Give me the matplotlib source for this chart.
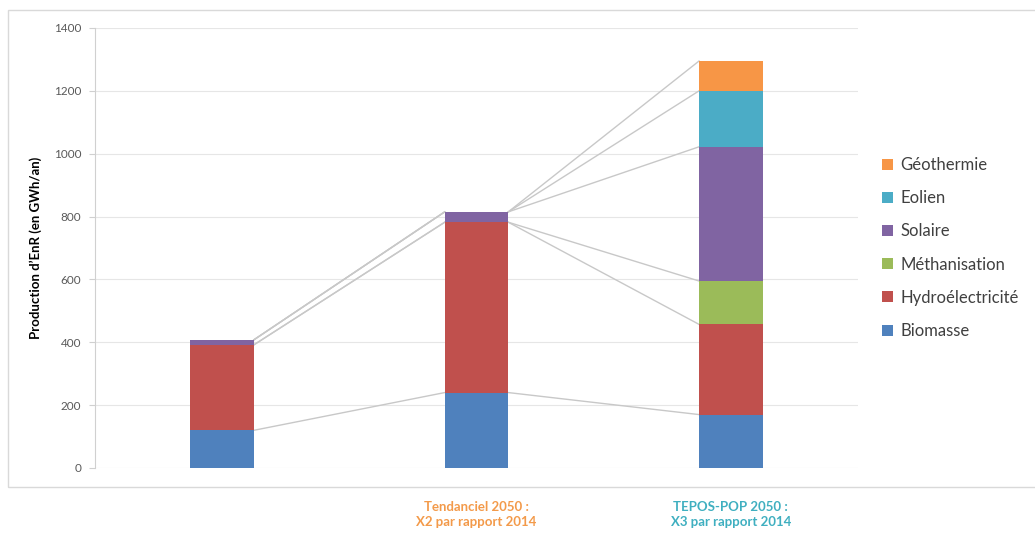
import matplotlib
matplotlib.use("Agg")
import matplotlib.pyplot as plt
import matplotlib.patches as mpatches
import numpy as np

plt.rcParams['font.family'] = ['Lato', 'DejaVu Sans']

categories = ["2014", "Tendanciel 2050", "TEPOS-POP 2050"]
cat_labels = ["", "Tendanciel 2050 :\nX2 par rapport 2014", "TEPOS-POP 2050 :\nX3 par rapport 2014"]
cat_label_colors = ["#000000", "#F39A4A", "#3FAFC0"]
series_names = ["Biomasse", "Hydroélectricité", "Méthanisation", "Solaire", "Eolien", "Géothermie"]
biomasse = [120, 240, 170]
hydro = [272, 542, 287]
methanisation = [0, 0, 138]
solaire = [16, 33, 427]
eolien = [0, 0, 178]
geothermie = [0, 0, 95]
colors = ["#4F81BD", "#C0504D", "#9BBB59", "#8064A2", "#4BACC6", "#F79646"]
yticks = [0, 200, 400, 600, 800, 1000, 1200, 1400]

series = [biomasse, hydro, methanisation, solaire, eolien, geothermie]

fig = plt.figure(figsize=(10.35, 5.36), dpi=100)
fig.patch.set_facecolor("white")

# frame of chart area
frame = mpatches.Rectangle((8/1035, (536-487)/536), (1040-8)/1035, (487-10)/536,
                           transform=fig.transFigure, fill=False, edgecolor="#D9D9D9", lw=1.0)
fig.add_artist(frame)

ax = fig.add_axes([95/1035, (536-468)/536, (858-95)/1035, (468-28)/536])
x = np.arange(len(categories))
w = 0.25
bottom = np.zeros(len(categories))
cums = []
for vals, name, c in zip(series, series_names, colors):
    vals = np.array(vals, dtype=float)
    ax.bar(x, vals, w, bottom=bottom, color=c, label=name, zorder=3)
    bottom = bottom + vals
    cums.append(bottom.copy())

# series lines
for cum in cums:
    for i in range(len(categories) - 1):
        ax.plot([x[i] + w/2, x[i+1] - w/2], [cum[i], cum[i+1]], color="#C8C8C8", lw=1.0, zorder=2)

ax.set_xlim(-0.5, len(categories) - 0.5)
ax.set_ylim(0, 1400)
ax.set_yticks(yticks)
ax.set_yticklabels([str(t) for t in yticks], color="#595959", fontsize=8.5)
ax.yaxis.grid(True, color="#E6E6E6", lw=0.8, zorder=0)
ax.set_axisbelow(True)
for s in ["top", "right", "bottom"]:
    ax.spines[s].set_visible(False)
ax.spines["left"].set_color("#D0D0D0")
ax.tick_params(axis="y", length=4, color="#D0D0D0", pad=6)
ax.set_xticks([])
ax.set_ylabel("Production d\u2019EnR (en GWh/an)", fontsize=9.5, fontweight="bold", labelpad=8)

for i, (lab, col) in enumerate(zip(cat_labels, cat_label_colors)):
    if lab:
        ax.text(x[i], -0.075, lab, transform=ax.get_xaxis_transform(), ha="center", va="top",
                color=col, fontsize=9.5, fontweight="bold", linespacing=1.35, clip_on=False)

handles, labels = ax.get_legend_handles_labels()
leg = fig.legend(handles[::-1], labels[::-1], loc="center left", bbox_to_anchor=(867/1035, 1 - 248/536),
                 frameon=False, fontsize=12, handlelength=0.65, handleheight=0.65,
                 handletextpad=0.45, labelspacing=1.03, labelcolor="#404040")

fig.savefig("out.png", dpi=100, facecolor="white")
